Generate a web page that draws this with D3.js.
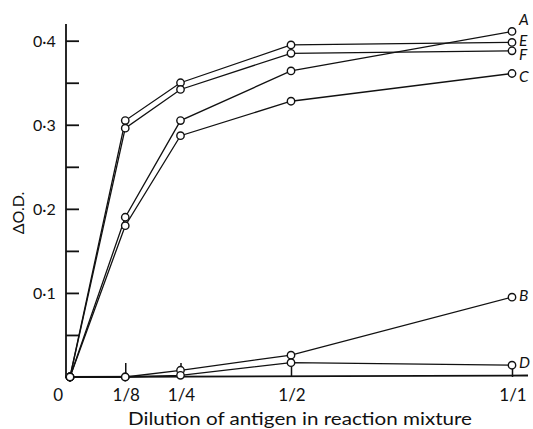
<!DOCTYPE html>
<html>
<head>
<meta charset="utf-8">
<script src="https://cdn.jsdelivr.net/npm/d3@7"></script>
<style>
  html, body { margin: 0; padding: 0; background: #fff; }
  svg { display: block; }
  text { font-family: Lato, "Open Sans", "DejaVu Sans", sans-serif; fill: #111; }
</style>
</head>
<body>
<svg id="chart" width="533" height="429"></svg>
<script>
// Antigen dilution steps along the x axis
const dilution = [0, 0.125, 0.25, 0.5, 1];
const dilutionLabels = ["0", "1/8", "1/4", "1/2", "1/1"];

// Change in optical density for each curve
const seriesA = [0, 0.190, 0.305, 0.364, 0.411];
const seriesB = [0, 0.000, 0.008, 0.026, 0.095];
const seriesC = [0, 0.180, 0.287, 0.328, 0.361];
const seriesD = [0, 0.000, 0.002, 0.017, 0.014];
const seriesE = [0, 0.305, 0.350, 0.395, 0.398];
const seriesF = [0, 0.296, 0.342, 0.385, 0.388];

const seriesNames = ["A", "E", "F", "C", "B", "D"];
const seriesValues = [seriesA, seriesE, seriesF, seriesC, seriesB, seriesD];

// Y axis ticks
const majorTicks = [0.1, 0.2, 0.3, 0.4];
const minorTicks = [0.05, 0.15, 0.25, 0.35];

const svg = d3.select("#chart");

const x = d3.scaleLinear().domain([0, 1]).range([70, 512]);
const y = d3.scaleLinear().domain([0, 0.4]).range([377, 40.7]);

const axisX = 66;
const axisY = y(0);
const ink = "#111";

// ---- Y axis ----
svg.append("line")
  .attr("x1", axisX).attr("x2", axisX)
  .attr("y1", y(0) + 1).attr("y2", y(0.42))
  .attr("stroke", ink).attr("stroke-width", 1.8);

const yMinor = svg.append("g")
  .attr("transform", `translate(${axisX},0)`)
  .call(d3.axisLeft(y).tickValues(minorTicks).tickSizeInner(-13).tickSizeOuter(0).tickFormat(""));
yMinor.select(".domain").remove();

const fmt = d => d3.format(".1f")(d).replace(".", "\u00b7");
const yMajor = svg.append("g")
  .attr("transform", `translate(${axisX},0)`)
  .call(d3.axisLeft(y).tickValues(majorTicks).tickSizeInner(-13).tickSizeOuter(0).tickFormat(fmt));
yMajor.select(".domain").remove();
yMajor.selectAll(".tick text")
  .attr("text-anchor", "start")
  .attr("x", 33 - axisX)
  .attr("dy", "0.36em")
  .style("font-size", "16px")
  .style("font-family", "Lato, 'Open Sans', sans-serif")
  .attr("fill", ink);

svg.selectAll(".tick line").attr("stroke", ink).attr("stroke-width", 1.8);

// Y axis title
svg.append("text")
  .attr("transform", `translate(24,213) rotate(-90)`)
  .attr("text-anchor", "middle")
  .style("font-size", "16px")
  .text("\u0394O.D.");

// ---- X axis ----
svg.append("line")
  .attr("x1", axisX).attr("x2", 528)
  .attr("y1", axisY).attr("y2", axisY - 1.5)
  .attr("stroke", ink).attr("stroke-width", 1.8);

const xAxis = svg.append("g")
  .attr("transform", `translate(0,${axisY})`)
  .call(d3.axisBottom(x)
    .tickValues(dilution.slice(1))
    .tickSizeInner(-14).tickSizeOuter(0)
    .tickFormat(""));
xAxis.select(".domain").remove();
xAxis.selectAll(".tick line").attr("stroke", ink).attr("stroke-width", 1.5);

svg.append("g").selectAll("text")
  .data(dilution)
  .join("text")
  .attr("x", (d, i) => i === 0 ? x(d) - 7 : x(d) + 1)
  .attr("y", 401)
  .attr("text-anchor", (d, i) => i === 0 ? "end" : "middle")
  .style("font-size", "17px")
  .text((d, i) => dilutionLabels[i]);

svg.append("text")
  .attr("x", 300)
  .attr("y", 425)
  .attr("text-anchor", "middle")
  .attr("textLength", 344)
  .attr("lengthAdjust", "spacingAndGlyphs")
  .style("font-size", "18px")
  .text("Dilution of antigen in reaction mixture");

// ---- Curves ----
const line = d3.line()
  .x((d, i) => x(dilution[i]))
  .y(d => y(d));

const curves = svg.append("g");
seriesValues.forEach(vals => {
  curves.append("path")
    .datum(vals)
    .attr("d", line)
    .attr("fill", "none")
    .attr("stroke", ink)
    .attr("stroke-width", 1.3);
});

const markers = svg.append("g");
seriesValues.forEach(vals => {
  markers.selectAll(null)
    .data(vals)
    .join("circle")
    .attr("cx", (d, i) => x(dilution[i]))
    .attr("cy", d => y(d))
    .attr("r", 3.7)
    .attr("fill", "#fff")
    .attr("stroke", ink)
    .attr("stroke-width", 1.4);
});

// Curve letters at the right-hand end, stacked tightly beside their markers
const lastIdx = dilution.length - 1;
const labelNudge = { A: -6.5, E: 3.5, F: 9.5, C: 8.5, B: 4, D: 3 };
svg.append("g").selectAll("text")
  .data(seriesNames)
  .join("text")
  .attr("x", 519)
  .attr("y", (n, i) => y(seriesValues[i][lastIdx]) + labelNudge[n])
  .style("font-size", "15.5px")
  .style("font-style", "italic")
  .text(n => n);
</script>
</body>
</html>
